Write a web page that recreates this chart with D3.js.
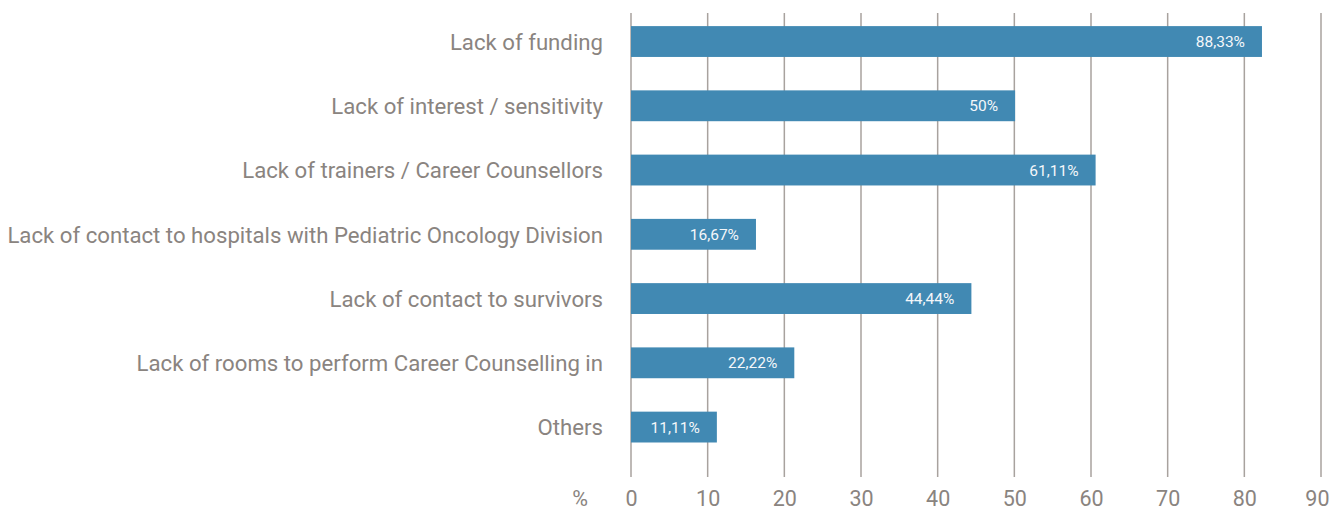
<!doctype html>
<html lang="en">
<head>
  <meta charset="utf-8">
  <title>Obstacles</title>
  <script type="text/javascript" src="https://cdnjs.cloudflare.com/ajax/libs/d3/7.8.5/d3.min.js"></script>
  <style>
    body { margin: 0; background: #fff; }
    text { font-family: Roboto, "Noto Sans", sans-serif; }
  </style>
</head>
<body>
  <svg width="1331" height="510" id="svg"></svg>
</body>
<script type="text/javascript">

  // categories, top to bottom
  var categories = [
    "Lack of funding",
    "Lack of interest / sensitivity",
    "Lack of trainers / Career Counsellors",
    "Lack of contact to hospitals with Pediatric Oncology Division",
    "Lack of contact to survivors",
    "Lack of rooms to perform Career Counselling in",
    "Others"
  ];

  // bar lengths as drawn in the picture (%)
  var values = [82.3, 50.1, 60.6, 16.3, 44.4, 21.3, 11.2];

  // labels printed on the bars
  var barLabels = ["88,33%", "50%", "61,11%", "16,67%", "44,44%", "22,22%", "11,11%"];

  var ticks = [0, 10, 20, 30, 40, 50, 60, 70, 80, 90];

  var textColor = "#8a8480",
      gridColor = "#a8a29e",
      barColor = "#4189b3";

  var svg = d3.select('#svg');

  var x = d3.scaleLinear()
    .domain([0, 90])
    .range([631, 1321]);

  var y = d3.scaleBand()
    .domain(categories)
    .range([9.4, 459.2])
    .paddingInner(0.52)
    .paddingOuter(0.26);

  // vertical grid lines
  svg.append('g')
    .selectAll('line')
    .data(ticks)
    .enter().append('line')
    .attr('x1', function(d) { return x(d); })
    .attr('x2', function(d) { return x(d); })
    .attr('y1', 13)
    .attr('y2', 477)
    .attr('stroke', gridColor)
    .attr('stroke-width', 1.5);

  // bottom tick labels
  var axis = svg.append('g')
    .attr('transform', 'translate(0,477)')
    .call(d3.axisBottom(x).tickValues(ticks).tickSize(0).tickPadding(0));
  axis.select('.domain').remove();
  axis.selectAll('text')
    .attr('y', 29)
    .attr('dy', null)
    .attr('fill', textColor)
    .style('font-size', '21.5px');
  // last label kept inside the frame
  axis.selectAll('.tick').filter(function(d) { return d === 90; })
    .select('text')
    .attr('text-anchor', 'end')
    .attr('x', 8);

  svg.append('text')
    .attr('x', 580)
    .attr('y', 506)
    .attr('text-anchor', 'middle')
    .attr('fill', textColor)
    .style('font-size', '21.5px')
    .text('%');

  // bars
  svg.append('g')
    .selectAll('rect')
    .data(values)
    .enter().append('rect')
    .attr('x', x(0))
    .attr('y', function(d, i) { return y(categories[i]); })
    .attr('width', function(d) { return x(d) - x(0); })
    .attr('height', y.bandwidth())
    .attr('fill', barColor);

  // value labels inside bars
  svg.append('g')
    .selectAll('text')
    .data(values)
    .enter().append('text')
    .attr('x', function(d) { return x(d) - 17; })
    .attr('text-anchor', 'end')
    .attr('y', function(d, i) { return y(categories[i]) + y.bandwidth() / 2; })
    .attr('dy', '0.36em')
    .attr('fill', '#f4f7fa')
    .style('font-size', '15.5px')
    .text(function(d, i) { return barLabels[i]; });

  // category labels
  svg.append('g')
    .selectAll('text')
    .data(categories)
    .enter().append('text')
    .attr('x', 603)
    .attr('y', function(d) { return y(d) + y.bandwidth() / 2; })
    .attr('dy', '0.37em')
    .attr('text-anchor', 'end')
    .attr('fill', textColor)
    .style('font-size', '22.2px')
    .text(function(d) { return d; });

</script>
</html>
